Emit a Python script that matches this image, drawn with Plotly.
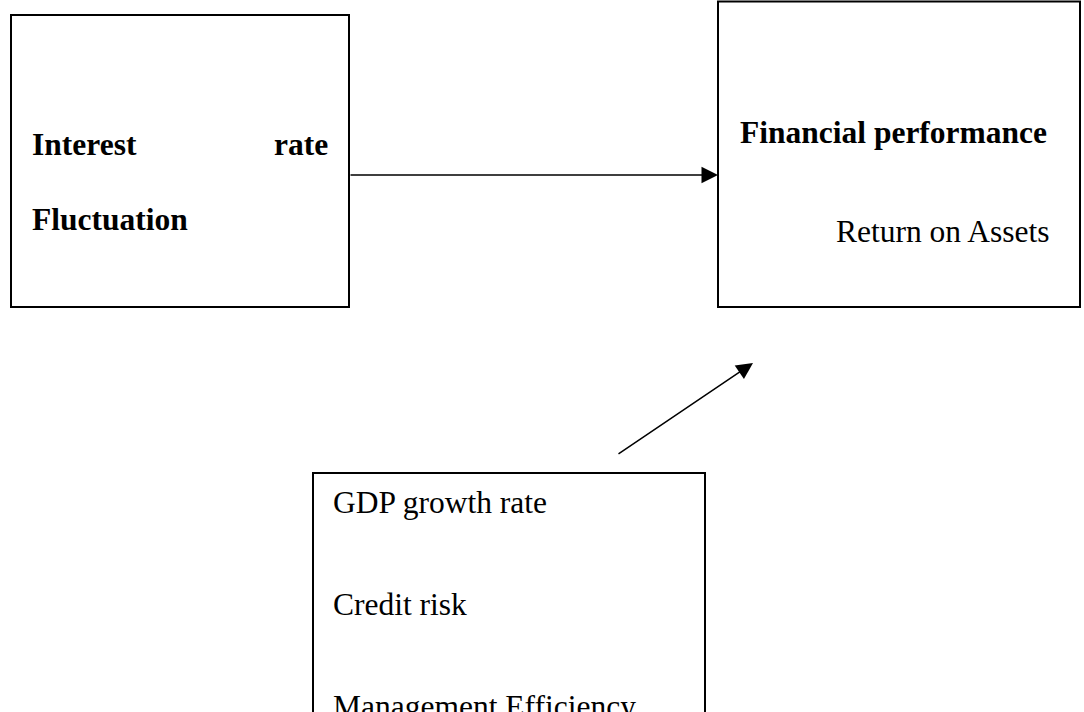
import plotly.graph_objects as go

# ---- content (text) ----
independent_words = ["Interest", "rate", "Fluctuation"]
dependent_title = "Financial performance"
dependent_measure = "Return on Assets"
control_variables = ["GDP growth rate", "Credit risk", "Management Efficiency"]

# ---- layout geometry (pixel space of the 1084x712 canvas) ----
W, H = 1084, 712
boxes = [  # x0, y0, x1, y1
    (11, 15, 349, 307),
    (718, 1.5, 1080, 307),
    (313, 473, 705, 820),
]
arrows = [  # tail x, tail y, head x, head y
    (349, 175, 718, 175),
    (617, 455, 753, 363),
]
FS = 31.5
SERIF = "Liberation Serif, Times New Roman, serif"

fig = go.Figure()
fig.add_trace(go.Scatter(x=[0, W], y=[0, H], mode="markers",
                         marker=dict(opacity=0), hoverinfo="skip", showlegend=False))

for (x0, y0, x1, y1) in boxes:
    fig.add_shape(type="rect", x0=x0, y0=y0, x1=x1, y1=y1, xref="x", yref="y",
                  line=dict(color="black", width=2), fillcolor="rgba(0,0,0,0)")

for (tx, ty, hx, hy) in arrows:
    fig.add_annotation(x=hx, y=hy, ax=tx, ay=ty, xref="x", yref="y", axref="x", ayref="y",
                       text="", showarrow=True, arrowhead=2, arrowsize=2.2, arrowwidth=1.5,
                       arrowcolor="black", standoff=0, startstandoff=0)

def label(text, x, y_center, anchor="left", bold=False):
    t = f"<b>{text}</b>" if bold else text
    fig.add_annotation(x=x, y=y_center, xref="x", yref="y", text=t, showarrow=False,
                       xanchor=anchor, yanchor="middle", borderpad=0,
                       font=dict(family=SERIF, size=FS, color="black"))

label(independent_words[0], 31, 144.5, bold=True)
label(independent_words[1], 329, 144.5, anchor="right", bold=True)
label(independent_words[2], 31, 219.5, bold=True)
label(dependent_title, 739, 132.5, bold=True)
label(dependent_measure, 835, 231.5)
label(control_variables[0], 332, 502.5)
label(control_variables[1], 332, 604.5)
label(control_variables[2], 332, 706)

fig.update_layout(
    width=W, height=H, autosize=False,
    margin=dict(l=0, r=0, t=0, b=0),
    paper_bgcolor="white", plot_bgcolor="white",
    xaxis=dict(range=[0, W], visible=False, fixedrange=True),
    yaxis=dict(range=[H, 0], visible=False, fixedrange=True),
    showlegend=False,
)
fig.write_html(
    "out.html",
    config={"displayModeBar": False, "staticPlot": True},
    post_script="document.body.style.margin='0';document.body.style.overflow='hidden';",
)
